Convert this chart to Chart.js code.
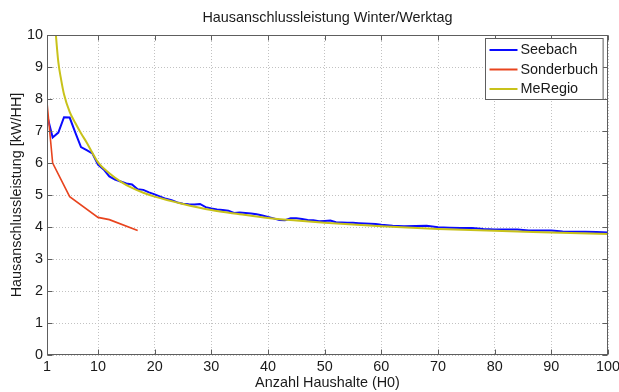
<!DOCTYPE html>
<html>
<head>
<meta charset="utf-8">
<script src="https://cdn.jsdelivr.net/npm/chart.js@4/dist/chart.umd.min.js"></script>
<style>
  html, body { margin: 0; padding: 0; background: #fff; overflow: hidden; }
  #wrap { width: 619px; height: 392px; position: relative; }
</style>
</head>
<body>
<div id="wrap"><canvas id="c"></canvas></div>
<script>
// Titles
const chartTitle = 'Hausanschlussleistung Winter/Werktag';
const xTitle = 'Anzahl Haushalte (H0)';
const yTitle = 'Hausanschlussleistung [kW/HH]';

// Tick labels
const xTickValues = [1, 10, 20, 30, 40, 50, 60, 70, 80, 90, 100];
const yTickValues = [0, 1, 2, 3, 4, 5, 6, 7, 8, 9, 10];

// Seebach (measured)
const seebachX = [1, 2, 3, 4, 5, 6, 7, 8, 9, 10, 11, 12, 13, 14, 15, 16, 17, 18, 19, 20,
  21, 22, 23, 24, 25, 26, 27, 28, 29, 30, 31, 32, 33, 34, 35, 36, 37, 38, 39, 40,
  41, 42, 43, 44, 45, 46, 47, 48, 49, 50, 51, 52, 53, 54, 55, 56, 57, 58, 59, 60,
  62, 64, 66, 68, 70, 72, 74, 76, 78, 80, 82, 84, 86, 88, 90, 92, 94, 96, 98, 100];
const seebachY = [7.5, 6.8, 6.95, 7.43, 7.42, 6.95, 6.5, 6.4, 6.3, 5.95, 5.8, 5.58, 5.48, 5.42, 5.36, 5.33, 5.18, 5.16, 5.08, 5.02,
  4.95, 4.88, 4.84, 4.77, 4.73, 4.71, 4.70, 4.72, 4.62, 4.58, 4.55, 4.53, 4.51, 4.44, 4.45, 4.44, 4.42, 4.40, 4.36, 4.31,
  4.27, 4.22, 4.21, 4.27, 4.27, 4.25, 4.22, 4.21, 4.18, 4.19, 4.20, 4.15, 4.14, 4.13, 4.13, 4.12, 4.11, 4.10, 4.09, 4.07,
  4.04, 4.02, 4.03, 4.04, 3.99, 3.98, 3.97, 3.97, 3.94, 3.92, 3.92, 3.92, 3.89, 3.89, 3.89, 3.86, 3.85, 3.85, 3.84, 3.83];

// Sonderbuch (measured)
const sonderbuchX = [1, 2, 5, 10, 12, 17];
const sonderbuchY = [7.9, 6.0, 4.95, 4.3, 4.23, 3.89];

// MeRegio (reference curve)
const meregioX = [2, 2.5, 3, 3.5, 4, 5, 6, 7, 8, 9, 10, 12, 14, 16, 18, 20, 25, 30, 35, 40, 45, 50, 60, 70, 80, 90, 100];
const meregioY = [11.3, 10.15, 9.15, 8.6, 8.15, 7.6, 7.25, 6.93, 6.64, 6.32, 6.02, 5.68, 5.42, 5.22, 5.07, 4.95, 4.72, 4.53, 4.4, 4.28, 4.2, 4.13, 4.02, 3.94, 3.88, 3.83, 3.78];

const toPoints = (xs, ys) => xs.map((x, i) => ({ x: x, y: ys[i] }));

const FONT = 'Liberation Sans, Arial, sans-serif';
const FONT_SIZE = 14.4;
const TEXT_COLOR = '#1a1a1a';
const BOX_COLOR = '#5e5e5e';
const GRID_COLOR = '#c2c2c2';

// Axes box, inward tick marks, title and legend (MATLAB style)
const matlabFrame = {
  id: 'matlabFrame',
  afterDatasetsDraw(chart) {
    const { ctx, chartArea: a, scales } = chart;
    ctx.save();
    ctx.strokeStyle = BOX_COLOR;
    ctx.lineWidth = 1;
    const L = Math.round(a.left) + 0.5, R = Math.round(a.right) - 0.5;
    const T = Math.round(a.top) + 0.5, B = Math.round(a.bottom) - 0.5;
    ctx.strokeRect(L, T, R - L, B - T);
    const tl = 5;
    ctx.beginPath();
    xTickValues.forEach(v => {
      const px = Math.round(scales.x.getPixelForValue(v)) + 0.5;
      ctx.moveTo(px, B); ctx.lineTo(px, B - tl);
      ctx.moveTo(px, T); ctx.lineTo(px, T + tl);
    });
    yTickValues.forEach(v => {
      const py = Math.round(scales.y.getPixelForValue(v)) + 0.5;
      ctx.moveTo(L, py); ctx.lineTo(L + tl, py);
      ctx.moveTo(R, py); ctx.lineTo(R - tl, py);
    });
    ctx.stroke();
    ctx.restore();
  },
  afterDraw(chart) {
    const { ctx, chartArea: a } = chart;
    ctx.save();
    ctx.font = FONT_SIZE + 'px ' + FONT;
    ctx.fillStyle = TEXT_COLOR;
    ctx.textAlign = 'center';
    ctx.textBaseline = 'alphabetic';
    ctx.fillText(chartTitle, (a.left + a.right) / 2, 21.5);

    // legend box in the upper right corner of the axes
    const ds = chart.data.datasets;
    let maxW = 0;
    ds.forEach(d => { maxW = Math.max(maxW, ctx.measureText(d.label).width); });
    const sample = 28, gap = 3, padL = 4, padR = 5, rowH = 19.5;
    const w = padL + sample + gap + maxW + padR;
    const h = rowH * ds.length + 2.5;
    const bx = Math.round(a.right - 5 - w) + 0.5;
    const by = Math.round(a.top + 3) + 0.5;
    ctx.fillStyle = '#fff';
    ctx.fillRect(bx, by, w, h);
    ctx.strokeStyle = BOX_COLOR;
    ctx.lineWidth = 1;
    ctx.strokeRect(bx, by, w, h);
    ctx.textAlign = 'left';
    ctx.textBaseline = 'middle';
    ds.forEach((d, i) => {
      const cy = by + 11.5 + i * rowH;
      ctx.strokeStyle = d.borderColor;
      ctx.lineWidth = 2;
      ctx.beginPath();
      ctx.moveTo(bx + padL, cy);
      ctx.lineTo(bx + padL + sample, cy);
      ctx.stroke();
      ctx.fillStyle = TEXT_COLOR;
      ctx.fillText(d.label, bx + padL + sample + gap, cy + 0.5);
    });
    ctx.restore();
  }
};

const gridOpts = {
  color: GRID_COLOR,
  lineWidth: 1,
  drawTicks: false
};

new Chart(document.getElementById('c'), {
  type: 'line',
  data: {
    datasets: [
      {
        label: 'Seebach',
        data: toPoints(seebachX, seebachY),
        borderColor: '#0a0aff',
        borderWidth: 2,
        pointRadius: 0,
        tension: 0,
        order: 2
      },
      {
        label: 'Sonderbuch',
        data: toPoints(sonderbuchX, sonderbuchY),
        borderColor: '#e8441e',
        borderWidth: 1.6,
        pointRadius: 0,
        tension: 0,
        order: 1
      },
      {
        label: 'MeRegio',
        data: toPoints(meregioX, meregioY),
        borderColor: '#c8c21a',
        borderWidth: 2,
        pointRadius: 0,
        cubicInterpolationMode: 'monotone',
        order: 0
      }
    ]
  },
  options: {
    responsive: true,
    maintainAspectRatio: false,
    animation: false,
    devicePixelRatio: 1,
    layout: { padding: { top: 35, right: 11, left: 0, bottom: 0 } },
    plugins: {
      legend: { display: false },
      title: { display: false },
      tooltip: { enabled: false }
    },
    scales: {
      x: {
        type: 'linear',
        min: 1,
        max: 100,
        afterBuildTicks(scale) { scale.ticks = xTickValues.map(v => ({ value: v })); },
        afterFit(scale) {
          scale.height = 37;
          scale.paddingLeft = 0;
          scale.paddingRight = 0;
        },
        grid: Object.assign({}, gridOpts),
        border: { display: false, dash: [1, 2] },
        ticks: {
          autoSkip: false,
          maxRotation: 0,
          padding: 3,
          color: TEXT_COLOR,
          font: { family: FONT, size: FONT_SIZE }
        },
        title: {
          display: true,
          text: xTitle,
          color: TEXT_COLOR,
          font: { family: FONT, size: FONT_SIZE },
          padding: { top: 0, bottom: 0 }
        }
      },
      y: {
        type: 'linear',
        min: 0,
        max: 10,
        afterBuildTicks(scale) { scale.ticks = yTickValues.map(v => ({ value: v })); },
        afterFit(scale) {
          scale.width = 47;
          scale.paddingTop = 0;
          scale.paddingBottom = 0;
        },
        grid: Object.assign({}, gridOpts),
        border: { display: false, dash: [1, 2] },
        ticks: {
          padding: 4,
          color: TEXT_COLOR,
          font: { family: FONT, size: FONT_SIZE }
        },
        title: {
          display: true,
          text: yTitle,
          color: TEXT_COLOR,
          font: { family: FONT, size: FONT_SIZE },
          padding: { top: 8, bottom: 0 }
        }
      }
    }
  },
  plugins: [matlabFrame]
});
</script>
</body>
</html>
